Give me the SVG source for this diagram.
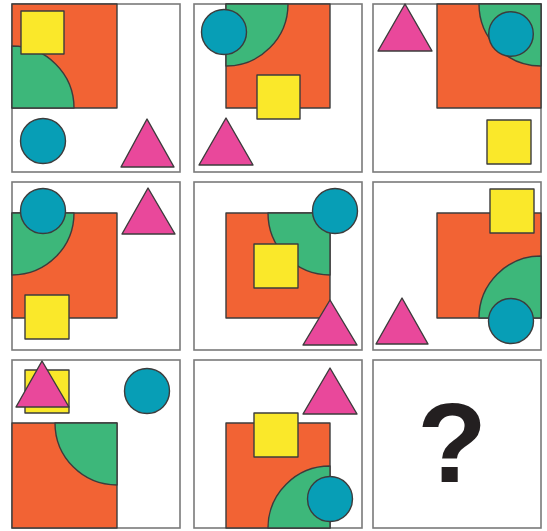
<svg xmlns="http://www.w3.org/2000/svg" width="547" height="531" viewBox="0 0 547 531">
<style>
.cell{fill:#fff;stroke:#7a7a7a;stroke-width:1.6}
.sh{stroke:#3c3c3c;stroke-width:1.4;stroke-linejoin:round}
.or{fill:#F26334}
.gr{fill:#3DB77A}
.ye{fill:#FAE82A}
.ci{fill:#079EB6}
.tr{fill:#E9489B}
.q{font-family:"Liberation Sans",Arial,sans-serif;font-weight:bold;font-size:114px;fill:#231f20}
</style>
<rect width="547" height="531" fill="#fff"/>
<g id="cell1">
<rect class="cell" x="12" y="4" width="168" height="168"/>
<rect class="sh or" x="12" y="4" width="105" height="104"/>
<path class="sh gr" d="M12,108 L12,46 A62,62 0 0 1 74,108 Z"/>
<rect class="sh ye" x="21" y="11" width="43" height="43"/>
<circle class="sh ci" cx="43" cy="141" r="22.5"/>
<polygon class="sh tr" points="147,119 121,167 174,167"/>
</g>
<g id="cell2">
<rect class="cell" x="194" y="4" width="168" height="168"/>
<rect class="sh or" x="226" y="4" width="104" height="104"/>
<path class="sh gr" d="M226,4 L288,4 A62,62 0 0 1 226,66 Z"/>
<circle class="sh ci" cx="224" cy="32" r="22.5"/>
<rect class="sh ye" x="257" y="75" width="43" height="44"/>
<polygon class="sh tr" points="226,118 199,165 253,165"/>
</g>
<g id="cell3">
<rect class="cell" x="373" y="4" width="168" height="168"/>
<rect class="sh or" x="437" y="4" width="104" height="104"/>
<path class="sh gr" d="M541,4 L541,66 A62,62 0 0 1 479,4 Z"/>
<circle class="sh ci" cx="511" cy="34" r="22.3"/>
<polygon class="sh tr" points="405,4 378,51 432,51"/>
<rect class="sh ye" x="487" y="120" width="44" height="44"/>
</g>
<g id="cell4">
<rect class="cell" x="12" y="182" width="168" height="168"/>
<rect class="sh or" x="12" y="213" width="105" height="105"/>
<path class="sh gr" d="M12,213 L74,213 A62,62 0 0 1 12,275 Z"/>
<circle class="sh ci" cx="43" cy="211" r="22.5"/>
<polygon class="sh tr" points="148,188 122,234 175,234"/>
<rect class="sh ye" x="25" y="295" width="44" height="44"/>
</g>
<g id="cell5">
<rect class="cell" x="194" y="182" width="168" height="168"/>
<rect class="sh or" x="226" y="213" width="104" height="105"/>
<path class="sh gr" d="M330,213 L330,275 A62,62 0 0 1 268,213 Z"/>
<circle class="sh ci" cx="335" cy="211" r="22.5"/>
<rect class="sh ye" x="254" y="244" width="44" height="44"/>
<polygon class="sh tr" points="330,300 303,345 357,345"/>
</g>
<g id="cell6">
<rect class="cell" x="373" y="182" width="168" height="168"/>
<rect class="sh or" x="437" y="213" width="104" height="105"/>
<path class="sh gr" d="M541,318 L479,318 A62,62 0 0 1 541,256 Z"/>
<rect class="sh ye" x="490" y="189" width="44" height="44"/>
<circle class="sh ci" cx="511" cy="321" r="22.5"/>
<polygon class="sh tr" points="402,298 376,344 428,344"/>
</g>
<g id="cell7">
<rect class="cell" x="12" y="360" width="168" height="168"/>
<rect class="sh or" x="12" y="423" width="105" height="105"/>
<path class="sh gr" d="M117,423 L117,485 A62,62 0 0 1 55,423 Z"/>
<rect class="sh ye" x="25" y="370" width="44" height="43"/>
<polygon class="sh tr" points="42,361 16,407 69,407"/>
<circle class="sh ci" cx="147" cy="391" r="22.5"/>
</g>
<g id="cell8">
<rect class="cell" x="194" y="360" width="168" height="168"/>
<rect class="sh or" x="226" y="423" width="104" height="105"/>
<path class="sh gr" d="M330,528 L268,528 A62,62 0 0 1 330,466 Z"/>
<circle class="sh ci" cx="330" cy="499" r="22.5"/>
<rect class="sh ye" x="254" y="413" width="44" height="44"/>
<polygon class="sh tr" points="330,368 303,414 357,414"/>
</g>
<g id="cell9">
<rect class="cell" x="373" y="360" width="168" height="168"/>
<text class="q" x="452" y="481.5" text-anchor="middle">?</text>
</g>
</svg>
